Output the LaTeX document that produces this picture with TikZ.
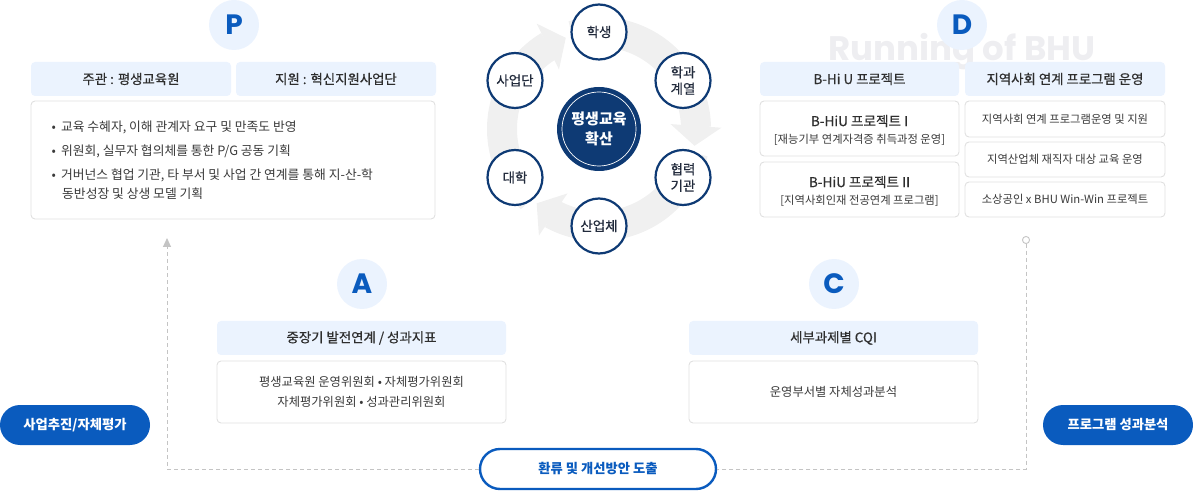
\documentclass[tikz,border=0pt]{standalone}
\usepackage{fontspec}
\setmainfont{Noto Sans CJK KR}
\newfontfamily\medfont{Noto Sans CJK KR}[FakeBold=0.5]
\newfontfamily\letterfont{Poppins}
\usetikzlibrary{arrows.meta,bending}
\definecolor{bluemain}{HTML}{0A5BBE}
\definecolor{lightblue}{HTML}{EBF3FE}
\definecolor{boxline}{HTML}{E0E0E0}
\definecolor{navy}{HTML}{0E3A74}
\definecolor{ringgray}{HTML}{F0F0F0}
\definecolor{txt}{HTML}{2E2E2E}
\definecolor{txtbody}{HTML}{3A3A3A}
\definecolor{membertxt}{HTML}{222B3C}
\definecolor{dashgray}{HTML}{C4C4C4}
\definecolor{wmgray}{HTML}{EEEEF1}

\tikzset{
  letter/.style={circle, fill=lightblue, minimum size=50pt, inner sep=0pt, text=bluemain,
    font=\letterfont\bfseries\fontsize{28}{28}\selectfont},
  headbox/.style={rounded corners=4pt, fill=lightblue, minimum height=34pt, inner sep=0pt,
    text=txt, font=\medfont\fontsize{13.4}{15}\selectfont},
  bodybox/.style={rounded corners=4pt, draw=boxline, fill=white, line width=0.9pt, inner sep=0pt,
    text=txtbody, align=center, font=\fontsize{12.3}{19.5}\selectfont},
  bodytext/.style={inner sep=0pt, text=txtbody, font=\fontsize{12.8}{14}\selectfont},
  projtitle/.style={inner sep=0pt, text=txt, font=\medfont\fontsize{13.6}{15}\selectfont},
  projsub/.style={inner sep=0pt, text=txtbody, font=\fontsize{11.3}{13}\selectfont},
  member/.style={circle, draw=navy, line width=2.2pt, fill=white, minimum size=55pt, inner sep=0pt,
    align=center, text=membertxt, font=\medfont\fontsize{13.5}{16.5}\selectfont},
  pill/.style={rounded corners=20pt, fill=bluemain, minimum height=40pt, minimum width=150pt,
    inner sep=0pt, text=white, font=\bfseries\fontsize{13.3}{15}\selectfont},
  loopline/.style={dashgray, dash pattern=on 4pt off 3pt, line width=0.9pt},
  ringarrow/.style={ringgray, line width=30pt, -{Triangle[width=50pt,length=20pt]}}
}

\begin{document}
\begin{tikzpicture}[x=1pt,y=1pt]
\useasboundingbox (0,0) rectangle (1193,490);

% P : plan
\node[letter] (P) at (234,465) {P};
\node[headbox, minimum width=200pt] (host) at (131,411) {주관 : 평생교육원};
\node[headbox, minimum width=200pt] (supp) at (336,411) {지원 : 혁신지원사업단};
\node[bodybox, minimum width=404pt, minimum height=118pt] (pbody) at (233,330) {};
\node[bodytext, anchor=west] (pb1) at (51.5,363) {•\, 교육 수혜자, 이해 관계자 요구 및 만족도 반영};
\node[bodytext, anchor=west] (pb2) at (51.5,339) {•\, 위원회, 실무자 협의체를 통한 P/G 공동 기획};
\node[bodytext, anchor=west] (pb3) at (51.5,315) {•\, 거버넌스 협업 기관, 타 부서 및 사업 간 연계를 통해 지-산-학};
\node[bodytext, anchor=west] (pb3b) at (62,296) {동반성장 및 상생 모델 기획};

% ring of partners
\coordinate (ctr) at (599,361);
\draw[ringarrow] ([shift={(226:97)}]ctr) arc[start angle=226, end angle=110, radius=97];
\draw[ringarrow] ([shift={(106:97)}]ctr) arc[start angle=106, end angle=-10, radius=97];
\draw[ringarrow] ([shift={(346:97)}]ctr) arc[start angle=346, end angle=230, radius=97];

\node[circle, fill=navy, minimum size=84pt, inner sep=0pt, align=center, text=white,
  font=\bfseries\fontsize{15}{20}\selectfont] (hub) at (ctr) {평생교육\\확산};
\draw[white, line width=0.7pt] (hub.center) circle[radius=37];

\node[member] (student) at ([shift={(90:97)}]ctr) {학생};
\node[member] (dept) at ([shift={(30:97)}]ctr) {학과\\계열};
\node[member] (partner) at ([shift={(-30:97)}]ctr) {협력\\기관};
\node[member] (industry) at ([shift={(-90:97)}]ctr) {산업체};
\node[member] (univ) at ([shift={(210:97)}]ctr) {대학};
\node[member] (office) at ([shift={(150:97)}]ctr) {사업단};

% D : do
\node[anchor=base, inner sep=0pt, text=wmgray, font=\letterfont\bfseries\fontsize{34}{34}\selectfont]
  (wm) at (962,429) {Running of BHU};
\node[letter] (D) at (962,465) {D};
\node[headbox, minimum width=199pt] (bhiu) at (859.5,411) {B-Hi U 프로젝트};
\node[headbox, minimum width=200pt] (local) at (1065,411) {지역사회 연계 프로그램 운영};

\node[bodybox, minimum width=199pt, minimum height=55pt] (proj1) at (859.5,361.5) {};
\node[projtitle] (proj1t) at (859.5,369) {B-HiU 프로젝트 I};
\node[projsub] (proj1s) at (859.5,350) {[재능기부 연계자격증 취득과정 운영]};
\node[bodybox, minimum width=199pt, minimum height=55pt] (proj2) at (859.5,300.5) {};
\node[projtitle] (proj2t) at (859.5,308) {B-HiU 프로젝트 II};
\node[projsub] (proj2s) at (859.5,289) {[지역사회인재 전공연계 프로그램]};

\node[bodybox, minimum width=200pt, minimum height=36pt, font=\fontsize{11.3}{13}\selectfont] (loc1) at (1065,371) {지역사회 연계 프로그램운영 및 지원};
\node[bodybox, minimum width=200pt, minimum height=35pt, font=\fontsize{11.3}{13}\selectfont] (loc2) at (1065,330.5) {지역산업체 재직자 대상 교육 운영};
\node[bodybox, minimum width=200pt, minimum height=35pt, font=\fontsize{11.3}{13}\selectfont] (loc3) at (1065,290.5) {소상공인 x BHU Win-Win 프로젝트};

% A : assess
\node[letter] (A) at (362,206) {A};
\node[headbox, minimum width=289pt] (ahead) at (361.5,152) {중장기 발전연계 / 성과지표};
\node[bodybox, minimum width=289pt, minimum height=62pt] (abody) at (361.5,98)
  {평생교육원 운영위원회 • 자체평가위원회\\자체평가위원회 • 성과관리위원회};

% C : check
\node[letter] (C) at (834,206) {C};
\node[headbox, minimum width=289pt] (chead) at (833.5,152) {세부과제별 CQI};
\node[bodybox, minimum width=289pt, minimum height=62pt] (cbody) at (833.5,98) {운영부서별 자체성과분석};

% side labels and feedback loop
\node[pill] (selfeval) at (75,65) {사업추진/자체평가};
\node[pill] (analysis) at (1118,65) {프로그램 성과분석};
\node[pill, fill=white, draw=bluemain, line width=2.4pt, minimum width=236pt, text=bluemain] (loop) at (598,21) {환류 및 개선방안 도출};

\coordinate (ltop) at (167,252);
\coordinate (rtop) at (1026,254);
\draw[loopline, -{Triangle[width=8pt,length=9pt]}] (loop.west) -| (ltop);
\draw[loopline, {Circle[open,length=8pt]}-] (rtop) |- (loop.east);

\end{tikzpicture}
\end{document}
